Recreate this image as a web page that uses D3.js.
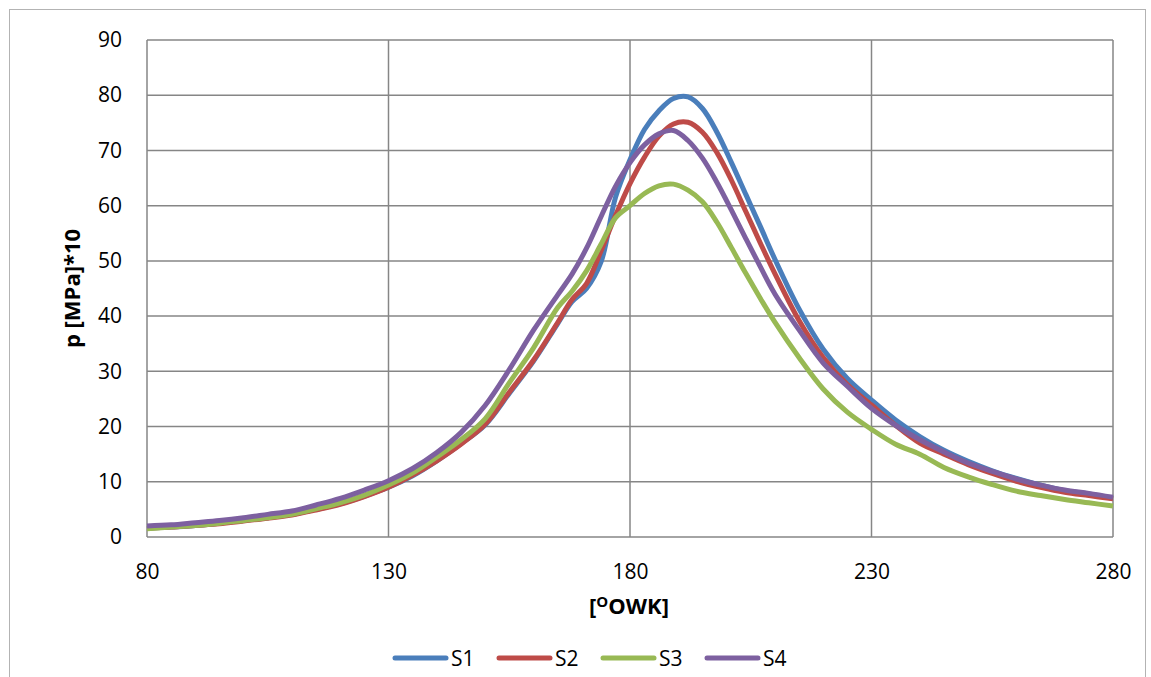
<!DOCTYPE html>
<html>
<head>
<meta charset="utf-8">
<script src="https://cdn.jsdelivr.net/npm/d3@7"></script>
<style>
  body { margin: 0; background: #fff; }
  text { font-family: "Open Sans", Lato, sans-serif; fill: #000; }
</style>
</head>
<body>
<div id="chart"></div>
<script>
// crank angle [deg] shared by all series
const angle = [80, 85, 90, 95, 100, 105, 110, 115, 120, 125, 130, 135, 140, 145, 150, 155, 160, 165, 168, 171, 174, 177, 180, 183, 186, 189, 192, 195, 198, 201, 204, 207, 210, 215, 220, 225, 230, 235, 240, 245, 250, 255, 260, 265, 270, 275, 280];

const s1 = [1.6, 1.8, 2.1, 2.5, 3.0, 3.5, 4.1, 5.0, 6.0, 7.4, 9.0, 11.1, 13.8, 16.9, 20.3, 26.0, 31.8, 38.6, 42.6, 45.0, 49.8, 61.5, 68.3, 73.8, 77.2, 79.4, 79.7, 77.6, 73.3, 67.8, 62.0, 56.2, 50.3, 41.3, 34.0, 28.7, 24.8, 21.2, 18.2, 15.7, 13.7, 12.0, 10.6, 9.4, 8.4, 7.8, 7.0];
const s2 = [1.6, 1.8, 2.1, 2.4, 2.9, 3.4, 4.0, 4.9, 5.9, 7.3, 9.0, 11.2, 13.8, 16.8, 20.4, 26.2, 32.0, 38.8, 43.0, 45.9, 51.8, 58.2, 64.0, 68.8, 72.6, 74.8, 75.1, 73.3, 69.6, 64.6, 58.9, 53.2, 47.7, 39.2, 32.5, 27.6, 23.9, 20.2, 17.0, 15.0, 13.1, 11.5, 10.1, 9.0, 8.1, 7.5, 6.9];
const s3 = [1.5, 1.8, 2.1, 2.5, 3.0, 3.5, 4.1, 5.1, 6.2, 7.6, 9.4, 11.6, 14.5, 17.6, 21.4, 27.9, 34.2, 41.5, 44.5, 48.2, 53.0, 57.8, 60.0, 62.2, 63.6, 63.9, 62.8, 60.7, 57.0, 52.4, 47.7, 43.2, 38.9, 32.5, 26.8, 22.6, 19.5, 16.8, 15.0, 12.6, 10.9, 9.5, 8.3, 7.5, 6.8, 6.2, 5.6];
const s4 = [2.0, 2.2, 2.6, 3.0, 3.5, 4.1, 4.7, 5.8, 7.0, 8.5, 10.2, 12.4, 15.3, 18.9, 23.8, 30.3, 37.4, 43.8, 47.6, 52.3, 58.0, 63.5, 67.8, 71.0, 73.0, 73.6, 71.8, 68.6, 64.2, 59.2, 54.0, 48.9, 44.0, 37.5, 31.5, 27.3, 23.3, 20.2, 17.6, 15.4, 13.4, 11.9, 10.5, 9.4, 8.5, 7.9, 7.2];

const seriesNames = ["S1", "S2", "S3", "S4"];
const seriesColors = ["#4a7ebb", "#be4b48", "#98b954", "#7d60a0"];
const xTicks = [80, 130, 180, 230, 280];
const yTicks = [0, 10, 20, 30, 40, 50, 60, 70, 80, 90];

const W = 1151, H = 677;
const margin = { top: 40, right: 38, bottom: 140, left: 147 };
const width = W - margin.left - margin.right;
const height = H - margin.top - margin.bottom;

const svg = d3.select("#chart").append("svg")
    .attr("width", W)
    .attr("height", H);

// chart area border
svg.append("rect")
    .attr("x", 9.5).attr("y", 9.5)
    .attr("width", W - 15).attr("height", H)
    .attr("fill", "#fff")
    .attr("stroke", "#b3b3b3")
    .attr("stroke-width", 1);

const g = svg.append("g")
    .attr("transform", `translate(${margin.left},${margin.top})`);

const x = d3.scaleLinear().domain([80, 280]).range([0, width]);
const y = d3.scaleLinear().domain([0, 90]).range([height, 0]);

// gridlines
g.append("g")
    .selectAll("line")
    .data(yTicks)
    .join("line")
    .attr("x1", 0).attr("x2", width)
    .attr("y1", d => y(d)).attr("y2", d => y(d))
    .attr("stroke", "#868686")
    .attr("stroke-width", 1.5);

g.append("g")
    .selectAll("line")
    .data(xTicks)
    .join("line")
    .attr("x1", d => x(d)).attr("x2", d => x(d))
    .attr("y1", 0).attr("y2", height)
    .attr("stroke", "#868686")
    .attr("stroke-width", 1.5);

// axes
const xAxis = g.append("g")
    .attr("transform", `translate(0,${height})`)
    .call(d3.axisBottom(x).tickValues(xTicks).tickSize(0).tickPadding(27));
const yAxis = g.append("g")
    .call(d3.axisLeft(y).tickValues(yTicks).tickSize(0).tickPadding(25));
[xAxis, yAxis].forEach(a => {
    a.select(".domain").remove();
    a.selectAll(".tick text")
        .style("font-size", "21px")
        .style("font-family", "'Open Sans', sans-serif")
        .attr("fill", "#000");
});

// lines
const allSeries = [s1, s2, s3, s4];
const line = d3.line()
    .x((d, i) => x(angle[i]))
    .y(d => y(d))
    .curve(d3.curveCatmullRom.alpha(0.5));

g.selectAll("path.series")
    .data(allSeries)
    .join("path")
    .attr("class", "series")
    .attr("fill", "none")
    .attr("stroke", (d, i) => seriesColors[i])
    .attr("stroke-width", 5)
    .attr("stroke-linejoin", "round")
    .attr("d", line);

// axis titles
svg.append("text")
    .attr("transform", `translate(80,${margin.top + height / 2}) rotate(-90)`)
    .attr("text-anchor", "middle")
    .style("font-size", "22px")
    .style("font-weight", "bold")
    .text("p [MPa]*10");

const xt = svg.append("text")
    .attr("x", margin.left + width / 2 - 1)
    .attr("y", 614)
    .attr("text-anchor", "middle")
    .style("font-size", "22px")
    .style("font-weight", "bold");
xt.append("tspan").text("[");
xt.append("tspan").attr("dy", -7).style("font-size", "15px").text("O");
xt.append("tspan").attr("dy", 7).text("OWK]");

// legend
const legend = svg.append("g").attr("transform", "translate(395,658)");
const items = legend.selectAll("g")
    .data(seriesNames)
    .join("g")
    .attr("transform", (d, i) => `translate(${i * 104},0)`);
items.append("line")
    .attr("x1", 0).attr("x2", 51)
    .attr("stroke", (d, i) => seriesColors[i])
    .attr("stroke-width", 5)
    .attr("stroke-linecap", "round");
items.append("text")
    .attr("x", 56)
    .attr("y", 8)
    .style("font-size", "21px")
    .text(d => d);
</script>
</body>
</html>
